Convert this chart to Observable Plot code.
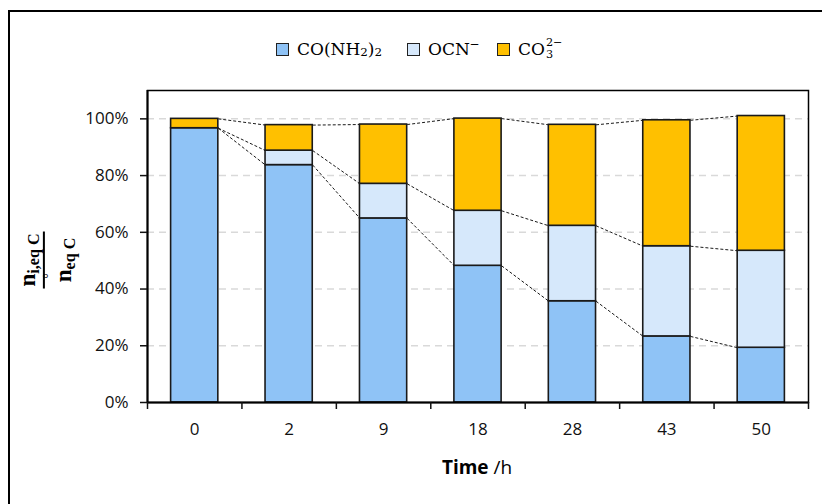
<!DOCTYPE html>
<html>
<head>
<meta charset="utf-8">
<script src="https://cdn.jsdelivr.net/npm/d3@7"></script>
<script src="https://cdn.jsdelivr.net/npm/@observablehq/plot@0.6"></script>
<style>
  body { margin: 0; background: #fff; }
  #wrap { position: relative; width: 822px; height: 504px; overflow: hidden; background: #fff; }
  #border { position: absolute; left: 8px; top: 10px; width: 900px; height: 600px; border-left: 2px solid #000; border-top: 2px solid #000; box-sizing: border-box; }
  #chart { position: absolute; left: 0; top: 0; }
  .leg { position: absolute; top: 36px; height: 26px; font-family: "DejaVu Serif", serif; font-size: 17px; color: #000; white-space: nowrap; display: flex; align-items: center; }
  .sw { display: inline-block; width: 11px; height: 11px; border: 1.5px solid #222; margin-right: 8px; flex: none; }
  .leg sub { font-size: 0.7em; position: relative; top: 0.25em; vertical-align: baseline; }
  .leg sup { font-size: 0.7em; position: relative; top: -0.45em; vertical-align: baseline; }
  .supsub { display: inline-flex; flex-direction: column; line-height: 1.05; font-size: 0.66em; margin-left: 1px; }
  #xlabel { position: absolute; left: 0; width: 954px; text-align: center; top: 454px; font-family: "Open Sans", sans-serif; font-size: 19px; color: #000; }
  #ylabel { position: absolute; left: 47px; top: 260px; transform: translate(-50%, -50%) rotate(-90deg); font-family: "Liberation Serif", serif; font-weight: bold; font-size: 23px; color: #000; display: flex; flex-direction: column; align-items: center; line-height: 1; }
  #ylabel .num { padding: 0 2px 1px 2px; border-bottom: 2px solid #000; }
  #ylabel .den { padding-top: 7px; }
  #ylabel sub { font-size: 0.7em; vertical-align: -0.25em; }
  .ring { position: relative; display: inline-block; }
  .ring span { position: absolute; left: 0; right: 0; text-align: center; top: -0.75em; font-size: 0.6em; font-weight: normal; }
</style>
</head>
<body>
<div id="wrap">
  <div id="border"></div>
  <div id="chart"></div>
  <div class="leg" style="left:276px"><span class="sw" style="background:#8fc3f6"></span>CO(NH<sub>2</sub>)<sub>2</sub></div>
  <div class="leg" style="left:407px"><span class="sw" style="background:#d6e8fb"></span>OCN<sup>−</sup></div>
  <div class="leg" style="left:497px"><span class="sw" style="background:#ffc000"></span>CO<span class="supsub"><span>2−</span><span>3</span></span></div>
  <div id="xlabel"><b>Time</b> /h</div>
  <div id="ylabel"><div class="num">n<sub>i,eq C</sub></div><div class="den"><span class="ring">n<span>°</span></span><sub>eq C</sub></div></div>
</div>
<script>
// Data
const times = ["0", "2", "9", "18", "28", "43", "50"];
const urea = [96.7, 83.7, 64.9, 48.2, 35.7, 23.3, 19.3];   // CO(NH2)2 %
const ocn  = [0.0, 5.1, 12.2, 19.4, 26.6, 31.8, 34.2];     // OCN- %
const co3  = [3.3, 9.0, 20.9, 32.5, 35.6, 44.4, 47.5];     // CO3 2- %
const yTicks = [0, 20, 40, 60, 80, 100];

const colUrea = "#8fc3f6", colOcn = "#d6e8fb", colCo3 = "#ffc000";

const idx = times.map((_, i) => i);
const ureaRows = idx.map(i => ({i, y1: 0, y2: urea[i]}));
const ocnRows = idx.map(i => ({i, y1: urea[i], y2: urea[i] + ocn[i]}));
const co3Rows = idx.map(i => ({i, y1: urea[i] + ocn[i], y2: urea[i] + ocn[i] + co3[i]}));
const bounds = [ureaRows, ocnRows, co3Rows];
const links = [];
for (const rows of bounds) {
  for (let i = 0; i < rows.length - 1; i++) {
    links.push({a: i, b: i + 1, ya: rows[i].y2, yb: rows[i + 1].y2});
  }
}
const half = 0.25;
const bandEdges = d3.range(-0.5, times.length, 1);

const bar = (rows, fill) => Plot.rect(rows, {
  x1: d => d.i - half, x2: d => d.i + half, y1: "y1", y2: "y2",
  fill, stroke: "#1a1a1a", strokeWidth: 1.6
});

const chart = Plot.plot({
  width: 822,
  height: 504,
  marginTop: 90,
  marginBottom: 102,
  marginLeft: 147,
  marginRight: 14,
  style: {fontFamily: "'Open Sans', sans-serif", fontSize: "17px", color: "#111", background: "transparent"},
  x: {type: "linear", domain: [-0.5, times.length - 0.5]},
  y: {domain: [0, 110]},
  marks: [
    Plot.gridY(yTicks.filter(t => t > 0), {stroke: "#d9d9d9", strokeOpacity: 1, strokeWidth: 1.5, strokeDasharray: "7,5"}),
    Plot.link(links, {x1: d => d.a + half, y1: "ya", x2: d => d.b - half, y2: "yb", stroke: "#000", strokeWidth: 0.9, strokeDasharray: "3,2"}),
    bar(ureaRows, colUrea),
    bar(ocnRows, colOcn),
    bar(co3Rows, colCo3),
    Plot.frame({stroke: "#000", strokeWidth: 1.5}),
    Plot.ruleX([-0.5], {stroke: "#000", strokeWidth: 2}),
    Plot.ruleY([0], {stroke: "#000", strokeWidth: 2}),
    Plot.axisY({ticks: yTicks, tickFormat: d => d + "%", tickSize: 7, tickPadding: 12, strokeWidth: 1.5, label: null, fontSize: 17}),
    Plot.axisX({ticks: bandEdges, tickFormat: () => "", tickSize: 7, strokeWidth: 1.5, label: null}),
    Plot.axisX({ticks: idx, tickFormat: i => times[i], tickSize: 0, tickPadding: 20, label: null, fontSize: 17})
  ]
});
document.getElementById("chart").appendChild(chart);
</script>
</body>
</html>
